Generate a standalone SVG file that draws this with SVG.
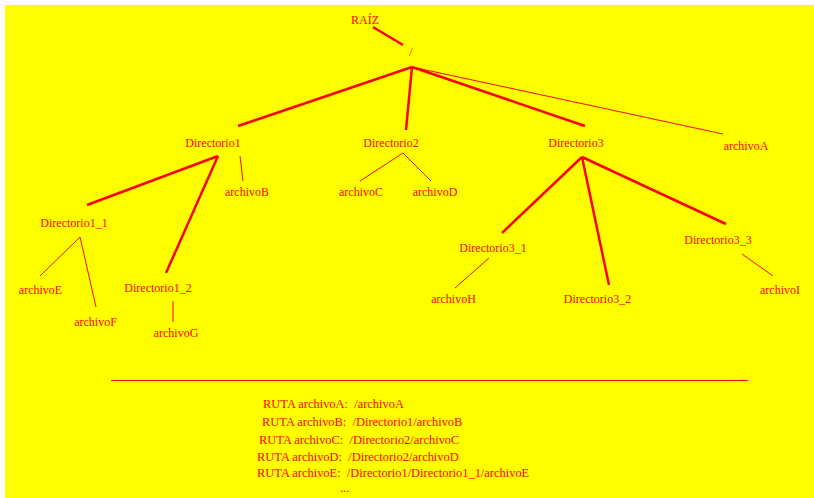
<svg xmlns="http://www.w3.org/2000/svg" width="814" height="498" viewBox="0 0 814 498">
<style>
text{font-family:"Liberation Serif","Times New Roman",serif;font-size:12px;fill:#ff0000;text-anchor:middle}
.l{text-anchor:start;white-space:pre;font-size:12.45px}
.k{stroke:#ff0000;stroke-width:2.5;fill:none}
.t{stroke:#ff0000;stroke-width:1;fill:none}
</style>
<rect x="5" y="5" width="809" height="493" fill="#ffff00"/>
<g id="connectors">
<line class="k" x1="373" y1="27" x2="403" y2="45"/>
<line class="k" x1="412" y1="67" x2="238" y2="126"/>
<line class="k" x1="412" y1="67" x2="406" y2="130"/>
<line class="k" x1="412" y1="67" x2="585" y2="126"/>
<line class="t" x1="412" y1="67" x2="723" y2="134"/>
<line class="k" x1="218" y1="156" x2="87" y2="205"/>
<line class="k" x1="218" y1="156" x2="166" y2="273"/>
<line class="t" x1="240" y1="156" x2="243" y2="181"/>
<line class="t" x1="403" y1="153" x2="360" y2="181"/>
<line class="t" x1="403" y1="153" x2="431" y2="181"/>
<line class="k" x1="582" y1="157" x2="502" y2="233"/>
<line class="k" x1="582" y1="157" x2="609" y2="285"/>
<line class="k" x1="582" y1="157" x2="726" y2="224"/>
<line class="t" x1="80" y1="237" x2="40" y2="276"/>
<line class="t" x1="80" y1="237" x2="96" y2="307"/>
<line class="t" x1="173" y1="301" x2="173" y2="322"/>
<line class="t" x1="489" y1="258" x2="455" y2="288"/>
<line class="t" x1="742" y1="254" x2="773" y2="276"/>
<line class="t" x1="111" y1="380.5" x2="748" y2="380.5"/>
</g>
<g id="raiz"><text x="365" y="24">RAÍZ</text></g>
<g id="root"><text x="411" y="56">/</text></g>
<g id="directorio1"><text x="213" y="147">Directorio1</text></g>
<g id="directorio2"><text x="391" y="147">Directorio2</text></g>
<g id="directorio3"><text x="576" y="147">Directorio3</text></g>
<g id="archivoA"><text x="746" y="150">archivoA</text></g>
<g id="archivoB"><text x="247" y="196">archivoB</text></g>
<g id="archivoC"><text x="361" y="196">archivoC</text></g>
<g id="archivoD"><text x="435" y="196">archivoD</text></g>
<g id="directorio1_1"><text x="74" y="227">Directorio1_1</text></g>
<g id="archivoE"><text x="40.5" y="294">archivoE</text></g>
<g id="archivoF"><text x="95.5" y="326">archivoF</text></g>
<g id="directorio1_2"><text x="158" y="292">Directorio1_2</text></g>
<g id="archivoG"><text x="176" y="337">archivoG</text></g>
<g id="directorio3_1"><text x="493" y="252">Directorio3_1</text></g>
<g id="archivoH"><text x="453.5" y="303">archivoH</text></g>
<g id="directorio3_2"><text x="597.5" y="303">Directorio3_2</text></g>
<g id="directorio3_3"><text x="718" y="244">Directorio3_3</text></g>
<g id="archivoI"><text x="780" y="294">archivoI</text></g>
<g id="rutas">
<text class="l" x="263" y="408">RUTA archivoA:  /archivoA</text>
<text class="l" x="262" y="426">RUTA archivoB:  /Directorio1/archivoB</text>
<text class="l" x="259" y="444">RUTA archivoC:  /Directorio2/archivoC</text>
<text class="l" x="257" y="461">RUTA archivoD:  /Directorio2/archivoD</text>
<text class="l" x="257" y="477">RUTA archivoE:  /Directorio1/Directorio1_1/archivoE</text>
<text class="l" x="340" y="492">...</text>
</g>
</svg>
